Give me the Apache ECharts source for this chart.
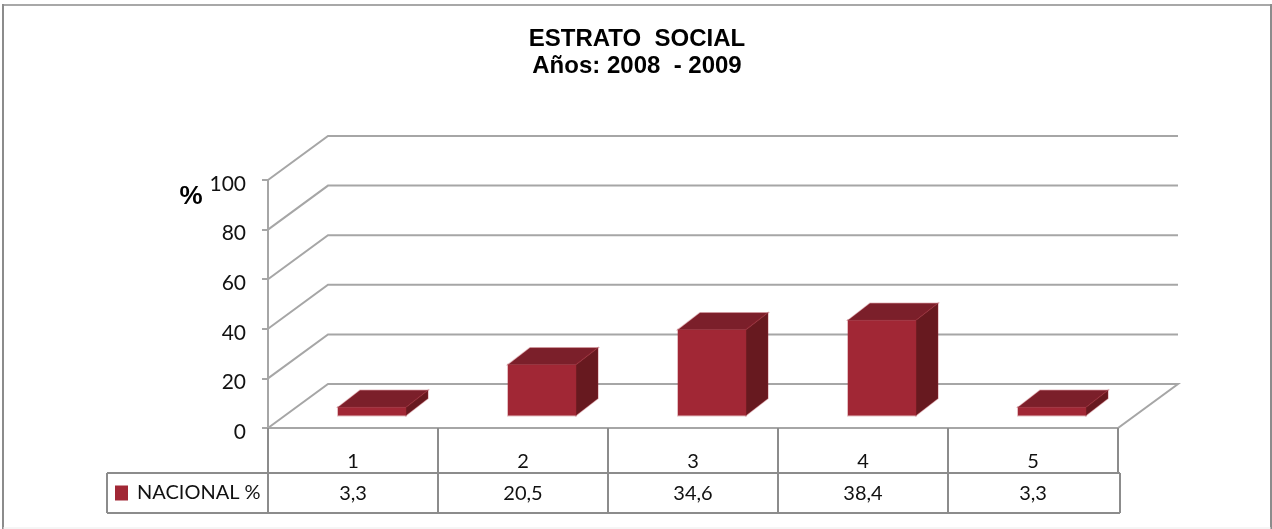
<!DOCTYPE html>
<html>
<head>
<meta charset="utf-8">
<style>
  html, body { margin: 0; padding: 0; background: #fff; }
  #chart { width: 1272px; height: 529px; }
</style>
<script src="https://cdn.jsdelivr.net/npm/echarts@6/dist/echarts.min.js"></script>
</head>
<body>
<div id="chart"></div>
<script>
var categories = ['1', '2', '3', '4', '5'];
var nacional = [3.3, 20.5, 34.6, 38.4, 3.3];
var nacionalLabels = ['3,3', '20,5', '34,6', '38,4', '3,3'];
var yTicks = [0, 20, 40, 60, 80, 100];

var lineColor = '#a6a6a6';
var tableColor = '#8c8c8c';
var font = 'Lato';

var chart = echarts.init(document.getElementById('chart'));

// la pared y el piso del grafico 3D
function renderWall(params, api) {
  var p = api.coord([0, api.value(0)]);
  var x0 = p[0] - api.size([1, 0])[0] / 2;
  var y = p[1];
  var x1 = x0 + api.size([1, 0])[0] * categories.length;
  var pts = [[x0, y], [x0 + 60, y - 44], [x1 + 60, y - 44]];
  if (api.value(0) === 0) {
    pts.push([x1, y]);
    pts.push([x0, y]);
  }
  return {
    type: 'polyline',
    shape: { points: pts },
    style: { stroke: lineColor, lineWidth: 2, fill: null }
  };
}

function renderBar(params, api) {
  var i = api.value(0);
  var base = api.coord([i, 0]);
  var top = api.coord([i, api.value(1)]);
  var w = api.size([1, 0])[0] * 0.4;
  var x = base[0] + 19 - w / 2;
  var yb = base[1] - 12.5;
  var yt = top[1] - 12.5;
  var dx = 22, dy = -17;
  var edge = 'rgba(161,39,53,0.3)';
  return {
    type: 'group',
    children: [
      {
        type: 'polygon',
        shape: { points: [[x, yb], [x + w, yb], [x + w, yt], [x, yt]] },
        style: { fill: '#a12735', stroke: edge, lineWidth: 2 }
      },
      {
        type: 'polygon',
        shape: { points: [[x, yt], [x + dx, yt + dy], [x + w + dx, yt + dy], [x + w, yt]] },
        style: { fill: '#7b1f2a', stroke: edge, lineWidth: 1.5 }
      },
      {
        type: 'polygon',
        shape: { points: [[x + w, yt], [x + w + dx, yt + dy], [x + w + dx, yb + dy], [x + w, yb]] },
        style: { fill: '#67191f', stroke: edge, lineWidth: 1.5 }
      }
    ]
  };
}

// tabla de datos debajo del eje
function renderTable(params, api) {
  var i = api.value(0);
  var c = api.coord([i, 0]);
  var w = api.size([1, 0])[0];
  var x0 = c[0] - w / 2;
  var y0 = c[1];
  var lines = [
    [[x0, y0], [x0, y0 + 85]],
    [[x0, y0 + 45], [x0 + w, y0 + 45]],
    [[x0, y0 + 85], [x0 + w, y0 + 85]]
  ];
  if (i === 0) {
    lines.push([[107, y0 + 45], [x0, y0 + 45]]);
    lines.push([[107, y0 + 85], [x0, y0 + 85]]);
    lines.push([[107, y0 + 45], [107, y0 + 85]]);
  }
  if (i === categories.length - 1) {
    lines.push([[x0 + w, y0], [x0 + w, y0 + 45]]);
    lines.push([[x0 + w + 2, y0 + 45], [x0 + w + 2, y0 + 85]]);
    lines.push([[x0 + w, y0 + 45], [x0 + w + 2, y0 + 45]]);
    lines.push([[x0 + w, y0 + 85], [x0 + w + 2, y0 + 85]]);
  }
  var children = lines.map(function (l) {
    return {
      type: 'line',
      shape: { x1: l[0][0], y1: l[0][1], x2: l[1][0], y2: l[1][1] },
      style: { stroke: tableColor, lineWidth: 2 }
    };
  });
  children.push({
    type: 'text',
    style: {
      x: c[0], y: y0 + 66,
      text: nacionalLabels[i],
      fill: '#111',
      font: '20px ' + font,
      align: 'center',
      verticalAlign: 'middle'
    }
  });
  return { type: 'group', children: children };
}

var option = {
  animation: false,
  backgroundColor: '#fff',
  title: {
    text: 'ESTRATO  SOCIAL\nAños: 2008  - 2009',
    left: 632,
    top: 21,
    textAlign: 'center',
    textStyle: {
      fontFamily: 'Liberation Sans',
      fontWeight: 'bold',
      fontSize: 24,
      lineHeight: 27,
      color: '#000'
    }
  },
  legend: {
    left: 110,
    top: 478,
    itemWidth: 13,
    itemHeight: 15,
    itemGap: 0,
    icon: 'rect',
    data: ['NACIONAL %'],
    textStyle: { fontFamily: font, fontSize: 20, color: '#111', padding: [6, 0, 0, 4] }
  },
  grid: { left: 268, right: 154, top: 180, bottom: 101 },
  xAxis: {
    type: 'category',
    data: categories,
    axisLine: { show: false },
    axisTick: { show: false },
    axisLabel: { fontFamily: font, fontSize: 20, color: '#111', margin: 24 }
  },
  yAxis: {
    type: 'value',
    min: 0,
    max: 100,
    interval: 20,
    name: '%',
    nameLocation: 'end',
    nameGap: -4,
    nameTextStyle: {
      fontFamily: 'Liberation Sans',
      fontWeight: 'bold',
      fontSize: 26,
      color: '#000',
      padding: [0, 154, 0, 0],
      verticalAlign: 'top'
    },
    splitLine: { show: false },
    axisLine: { show: true, lineStyle: { color: lineColor, width: 2 } },
    axisTick: { show: true, length: 6, lineStyle: { color: lineColor, width: 2 } },
    axisLabel: {
      fontFamily: font,
      fontSize: 21,
      color: '#111',
      margin: 22,
      verticalAlign: 'top',
      lineHeight: 8
    }
  },
  // marco del grafico
  graphic: [
    { type: 'line', silent: true, shape: { x1: 3, y1: 5, x2: 1271, y2: 5 }, style: { stroke: '#a8a8a8', lineWidth: 2 } },
    { type: 'line', silent: true, shape: { x1: 3, y1: 4, x2: 3, y2: 529 }, style: { stroke: '#8c8c8c', lineWidth: 2 } },
    { type: 'line', silent: true, shape: { x1: 1271, y1: 4, x2: 1271, y2: 529 }, style: { stroke: '#8c8c8c', lineWidth: 2 } },
    { type: 'line', silent: true, shape: { x1: 3, y1: 528, x2: 1271, y2: 528 }, style: { stroke: '#ececec', lineWidth: 1 } }
  ],
  series: [
    {
      type: 'custom',
      name: 'pared',
      silent: true,
      z: 1,
      data: yTicks.map(function (t) { return [t]; }),
      encode: { y: 0 },
      renderItem: renderWall
    },
    {
      type: 'custom',
      name: 'tabla',
      silent: true,
      z: 1,
      clip: false,
      data: categories.map(function (c, i) { return [i]; }),
      encode: { x: 0 },
      renderItem: renderTable
    },
    {
      type: 'custom',
      name: 'NACIONAL %',
      z: 3,
      itemStyle: { color: '#a12735' },
      data: nacional.map(function (v, i) { return [i, v]; }),
      encode: { x: 0, y: 1 },
      renderItem: renderBar
    }
  ]
};

chart.setOption(option);
</script>
</body>
</html>
